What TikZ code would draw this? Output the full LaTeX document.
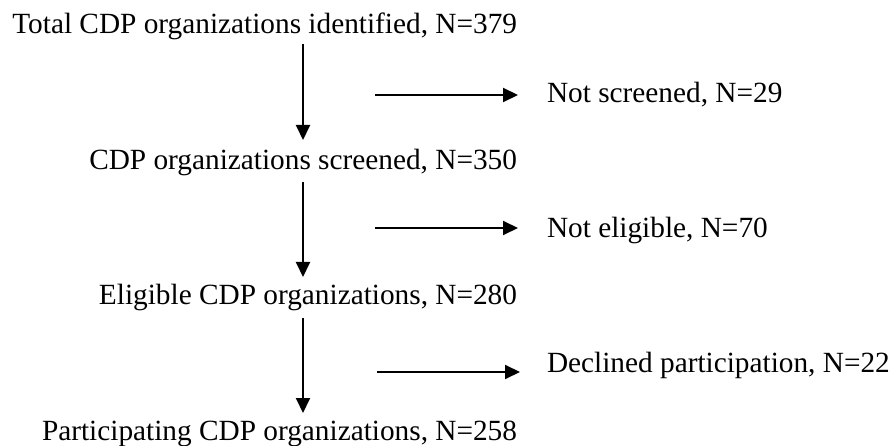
\documentclass[tikz,border=0pt]{standalone}
\usepackage{fontspec}
\setmainfont{Liberation Serif}
\usetikzlibrary{arrows.meta,calc}

\tikzset{
  stage/.style={inner sep=0pt, outer sep=0pt, anchor=base east,
    font=\fontsize{29.3}{34}\selectfont},
  exclusion/.style={inner sep=0pt, outer sep=0pt, anchor=base west,
    font=\fontsize{29.3}{34}\selectfont},
  flow/.style={line width=2pt, -{Triangle[length=15pt,width=14pt]}}
}

\begin{document}
\begin{tikzpicture}[x=1pt,y=-1pt]
  \useasboundingbox (0,0) rectangle (892,446);

  % main column of stages, right-aligned
  \node[stage] (total)    at (517,34)  {Total CDP organizations identified, N=379};
  \node[stage] (screened) at (517,170) {CDP organizations screened, N=350};
  \node[stage] (eligible) at (517,305) {Eligible CDP organizations, N=280};
  \node[stage] (particip) at (517,440) {Participating CDP organizations, N=258};

  % exclusions on the right
  \node[exclusion] (notscr)   at (547,103) {Not screened, N=29};
  \node[exclusion] (notelig)  at (547,238) {Not eligible, N=70};
  \node[exclusion] (declined) at (547,373) {Declined participation, N=22};

  % axis of the vertical flow
  \coordinate (col) at (303,0);

  % vertical flow arrows
  \draw[flow] ($(total.base -| col)+(0,10)$)    -- ($(screened.base -| col)+(0,-30)$);
  \draw[flow] ($(screened.base -| col)+(0,12)$) -- ($(eligible.base -| col)+(0,-28)$);
  \draw[flow] ($(eligible.base -| col)+(0,13)$) -- ($(particip.base -| col)+(0,-27)$);

  % horizontal exclusion arrows
  \coordinate (h1) at (375,95);
  \coordinate (h2) at (375,228);
  \coordinate (h3) at (377,372);
  \draw[flow] (h1) -- ($(h1 -| notscr.west)+(-29,0)$);
  \draw[flow] (h2) -- ($(h2 -| notelig.west)+(-29,0)$);
  \draw[flow] (h3) -- ($(h3 -| declined.west)+(-27,0)$);
\end{tikzpicture}
\end{document}
